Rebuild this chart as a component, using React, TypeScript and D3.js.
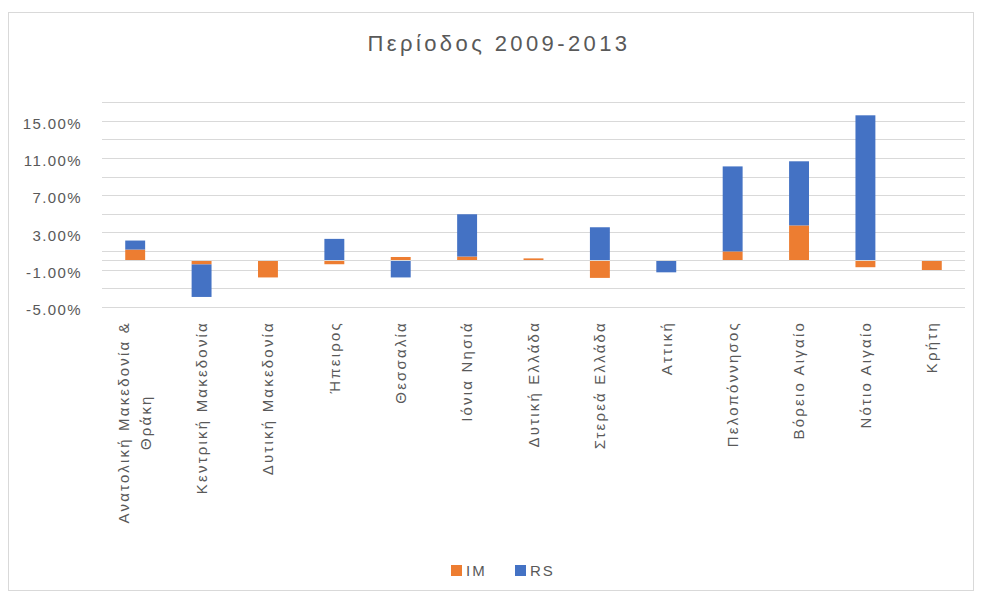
import React, { useEffect, useRef } from "react";
import * as d3 from "d3";

const title = "Περίοδος 2009-2013";
const categories = [
  "Ανατολική Μακεδονία & Θράκη",
  "Κεντρική Μακεδονία",
  "Δυτική Μακεδονία",
  "Ήπειρος",
  "Θεσσαλία",
  "Ιόνια Νησιά",
  "Δυτική Ελλάδα",
  "Στερεά Ελλάδα",
  "Αττική",
  "Πελοπόννησος",
  "Βόρειο Αιγαίο",
  "Νότιο Αιγαίο",
  "Κρήτη",
];
const imValues = [1.15, -0.45, -1.85, -0.43, 0.35, 0.4, 0.2, -1.9, 0, 0.95, 3.75, -0.75, -1.05];
const rsValues = [0.97, -3.5, 0, 2.3, -1.85, 4.55, 0, 3.55, -1.3, 9.15, 6.9, 15.6, 0];
const seriesNames = ["IM", "RS"];
const seriesColors = ["#ED7D31", "#4472C4"];
const tickValues = [-5, -1, 3, 7, 11, 15];
const gridValues = [-5, -3, -1, 1, 3, 5, 7, 9, 11, 13, 15, 17];

const FONT = "'Liberation Sans', Arial, sans-serif";
const TEXT = "#595959";

function wrap(label: string, max: number): string[] {
  const words = label.split(" ");
  const lines: string[] = [];
  let cur = "";
  for (const w of words) {
    const next = cur ? cur + " " + w : w;
    if (next.length > max && cur) {
      lines.push(cur);
      cur = w;
    } else cur = next;
  }
  if (cur) lines.push(cur);
  return lines;
}

export default function App() {
  const ref = useRef<SVGSVGElement>(null);
  useEffect(() => {
    const svg = d3.select(ref.current);
    svg.selectAll("*").remove();

    const x = d3.scaleBand<string>().domain(categories).range([102, 965]).padding(0);
    const y = d3.scaleLinear().domain([-5, 17]).range([306.7, 102.3]);

    svg.append("rect")
      .attr("x", 8.5).attr("y", 12.5).attr("width", 965).attr("height", 578)
      .attr("fill", "#ffffff").attr("stroke", "#d9d9d9");

    svg.append("text")
      .attr("x", 499).attr("y", 50.5)
      .attr("text-anchor", "middle")
      .attr("font-family", FONT).attr("font-size", 22)
      .attr("letter-spacing", "3.4px")
      .attr("fill", TEXT)
      .text(title);

    // gridlines
    svg.append("g").selectAll("line").data(gridValues).join("line")
      .attr("x1", 102).attr("x2", 965)
      .attr("y1", (d) => Math.round(y(d)) + 0.5)
      .attr("y2", (d) => Math.round(y(d)) + 0.5)
      .attr("stroke", "#d9d9d9").attr("stroke-width", 1.2);

    // y labels
    svg.append("g").selectAll("text").data(tickValues).join("text")
      .attr("x", 82).attr("y", (d) => y(d) + 3)
      .attr("dy", "0.35em")
      .attr("text-anchor", "end")
      .attr("font-family", FONT).attr("font-size", 15)
      .attr("letter-spacing", "1.4px")
      .attr("fill", TEXT)
      .text((d) => d.toFixed(2) + "%");

    // bars
    const data = categories.map((c, i) => ({ cat: c, IM: imValues[i], RS: rsValues[i] }));
    const stack = d3.stack<any>().keys(seriesNames).offset(d3.stackOffsetDiverging);
    const layers = stack(data);
    const step = x.bandwidth();
    const barW = step * 0.3;
    layers.forEach((layer, li) => {
      svg.append("g").attr("fill", seriesColors[li]).selectAll("rect").data(layer).join("rect")
        .attr("x", (d: any) => (x(d.data.cat) as number) + (step - barW) / 2)
        .attr("width", barW)
        .attr("y", (d: any) => y(Math.max(d[0], d[1])))
        .attr("height", (d: any) => Math.abs(y(d[0]) - y(d[1])));
    });

    // zero axis
    svg.append("line")
      .attr("x1", 102).attr("x2", 965)
      .attr("y1", Math.round(y(0)) + 0.5).attr("y2", Math.round(y(0)) + 0.5)
      .attr("stroke", "#d9d9d9").attr("stroke-width", 1.2);

    // x labels
    const xl = svg.append("g");
    categories.forEach((c) => {
      const cx = (x(c) as number) + step / 2;
      const lines = wrap(c, 22);
      const g = xl.append("g").attr("transform", `translate(${cx},321) rotate(-90)`);
      const n = lines.length;
      const lh = 22;
      const t1 = g.append("text")
        .attr("x", 0).attr("y", -((n - 1) * lh) / 2)
        .attr("dy", "0.35em")
        .attr("text-anchor", "end")
        .attr("font-family", FONT).attr("font-size", 15)
        .attr("letter-spacing", "2.2px")
        .attr("fill", TEXT)
        .text(lines[0]);
      if (n > 1) {
        const len = (t1.node() as SVGTextElement).getComputedTextLength();
        for (let k = 1; k < n; k++) {
          g.append("text")
            .attr("x", -len / 2).attr("y", -((n - 1) * lh) / 2 + k * lh)
            .attr("dy", "0.35em")
            .attr("text-anchor", "middle")
            .attr("font-family", FONT).attr("font-size", 15)
            .attr("letter-spacing", "2.2px")
            .attr("fill", TEXT)
            .text(lines[k]);
        }
      }
    });

    // legend
    const legendX = [451, 515];
    seriesNames.forEach((s, i) => {
      svg.append("rect")
        .attr("x", legendX[i]).attr("y", 565).attr("width", 11).attr("height", 11)
        .attr("fill", seriesColors[i]);
      svg.append("text")
        .attr("x", legendX[i] + 15).attr("y", 570.5)
        .attr("dy", "0.35em")
        .attr("font-family", FONT).attr("font-size", 15)
        .attr("letter-spacing", "2px")
        .attr("fill", TEXT)
        .text(s);
    });
  }, []);

  return (
    <svg
      ref={ref}
      width={981}
      height={597}
      style={{ position: "absolute", left: 0, top: 0, background: "#ffffff" }}
    />
  );
}
